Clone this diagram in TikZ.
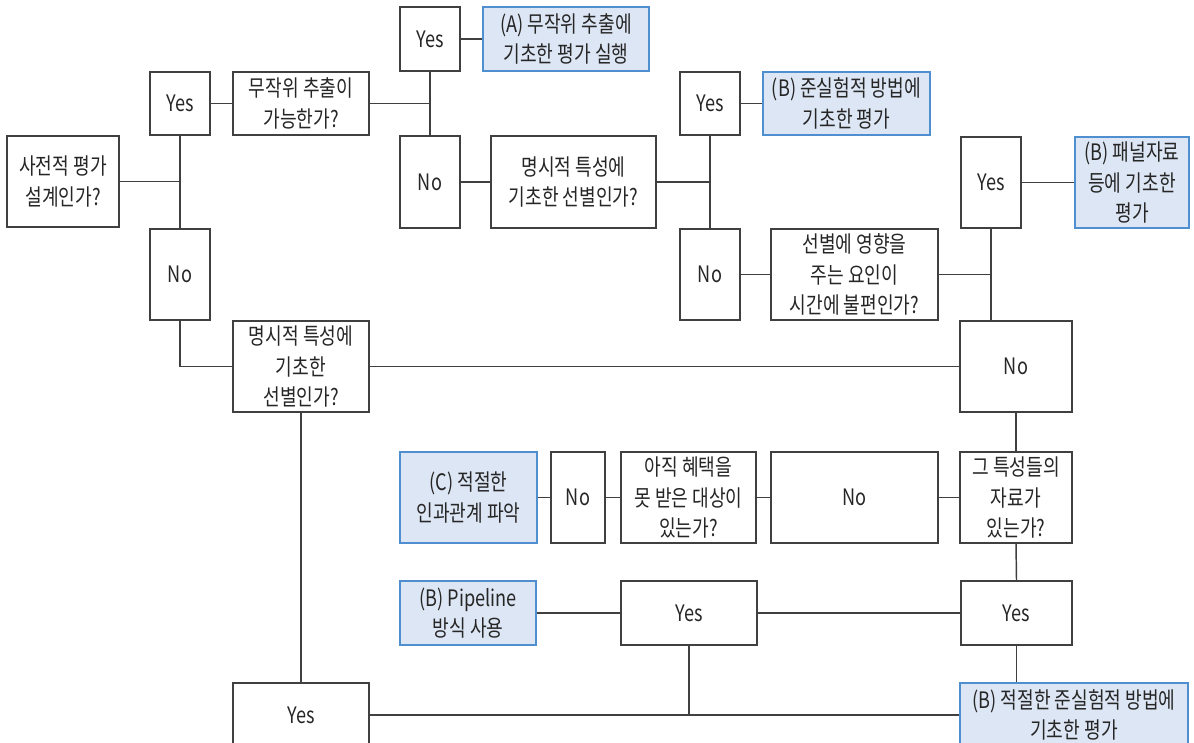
\documentclass[tikz,border=0pt]{standalone}
\usepackage{fontspec}
\newfontfamily\kr[FakeStretch=0.8]{Noto Sans CJK KR}
\definecolor{lnc}{HTML}{404040}
\definecolor{txc}{HTML}{262626}
\definecolor{bfill}{HTML}{DDE6F4}
\definecolor{bdraw}{HTML}{4F8FCF}
\begin{document}
\begin{tikzpicture}[x=0.75pt,y=-0.75pt,
  box/.style={draw=lnc,line width=1.1pt,fill=white,text=txc,align=center,inner sep=0pt,
    font=\kr\fontsize{17pt}{22.8pt}\selectfont},
  res/.style={box,draw=bdraw,fill=bfill},
  ln/.style={draw=lnc,line width=1.1pt}]
\useasboundingbox (0,0) rectangle (1194,742);
\clip (0,0) rectangle (1194,742);
\fill[white] (0,0) rectangle (1194,742);
% column nodes
\node[box,minimum width=84pt,minimum height=68.25pt] (pre) at (63,181.5) {사전적 평가\\설계인가?};
\node[box,minimum width=45pt,minimum height=47.25pt] (yes1) at (180,103.5) {Yes};
\node[box,minimum width=102pt,minimum height=47.25pt] (rand) at (301,103.5) {무작위 추출이\\가능한가?};
\node[box,minimum width=45pt,minimum height=68.25pt] (no1) at (180,274.5) {No};
\node[box,minimum width=102pt,minimum height=68.25pt] (exp2) at (301,366.5) {명시적 특성에\\기초한\\선별인가?};
\node[box,minimum width=45pt,minimum height=48pt] (yes2) at (430,39) {Yes};
\node[res,minimum width=124.5pt,minimum height=48pt] (A) at (566,39) {(A) 무작위 추출에\\기초한 평가 실행};
\node[box,minimum width=45pt,minimum height=69pt] (no2) at (430,182) {No};
\node[box,minimum width=123.75pt,minimum height=69pt] (exp1) at (573.5,182) {명시적 특성에\\기초한 선별인가?};
\node[box,minimum width=45pt,minimum height=47.25pt] (yes3) at (710,103.5) {Yes};
\node[res,minimum width=125.25pt,minimum height=47.25pt] (Bq) at (846.5,103.5) {(B) 준실험적 방법에\\기초한 평가};
\node[box,minimum width=45pt,minimum height=68.25pt] (no3) at (710,274.5) {No};
\node[box,minimum width=125.25pt,minimum height=68.25pt] (sel) at (854.5,274.5) {선별에 영향을\\주는 요인이\\시간에 불편인가?};
\node[box,minimum width=45pt,minimum height=68.25pt] (yes4) at (991,182.5) {Yes};
\node[res,minimum width=85.5pt,minimum height=68.25pt] (panel) at (1132,182.5) {(B) 패널자료\\등에 기초한\\평가};
\node[box,minimum width=84pt,minimum height=68.25pt] (no4) at (1016,366.5) {No};
% row of 497
\node[res,minimum width=102.75pt,minimum height=68.25pt] (C) at (468.5,497.5) {(C) 적절한\\인과관계 파악};
\node[box,minimum width=40.5pt,minimum height=68.25pt] (no6) at (578,497.5) {No};
\node[box,minimum width=101.25pt,minimum height=68.25pt] (ask) at (688.5,497.5) {아직 혜택을\\못 받은 대상이\\있는가?};
\node[box,minimum width=125.25pt,minimum height=68.25pt] (no5) at (854.5,497.5) {No};
\node[box,minimum width=84pt,minimum height=68.25pt] (data) at (1016,497.5) {그 특성들의\\자료가\\있는가?};
% row of 613
\node[res,minimum width=102pt,minimum height=48pt] (pipe) at (468,613) {(B) Pipeline\\방식 사용};
\node[box,minimum width=102pt,minimum height=48pt] (yes5) at (689,613) {Yes};
\node[box,minimum width=83.25pt,minimum height=48pt] (yes6) at (1016.5,613) {Yes};
% bottom row
\node[box,minimum width=102pt,minimum height=48pt] (yes7) at (301,715) {Yes};
\node[res,minimum width=171pt,minimum height=48pt] (Bf) at (1074,715) {(B) 적절한 준실험적 방법에\\기초한 평가};
% connectors
\path[ln] (pre.east) -- (pre.east -| yes1.south);
\path[ln] (yes1.south) -- (no1.north);
\path[ln] (yes1.east) -- (rand.west);
\path[ln] (rand.east) -- (rand.east -| yes2.south);
\path[ln] (yes2.south) -- (no2.north);
\path[ln] (yes2.east) -- (A.west);
\path[ln] (no2.east) -- (exp1.west);
\path[ln] (exp1.east) -- (exp1.east -| yes3.south);
\path[ln] (yes3.south) -- (no3.north);
\path[ln] (yes3.east) -- (Bq.west);
\path[ln] (no3.east) -- (sel.west);
\path[ln] (sel.east) -- (sel.east -| yes4.south);
\path[ln] (yes4.south) -- (yes4.south |- no4.north);
\path[ln] (yes4.east) -- (panel.west);
\path[ln] (no1.south) |- (exp2.west);
\path[ln] (exp2.east) -- (no4.west);
\path[ln] (no4.south) -- (data.north);
\path[ln] (data.west) -- (no5.east);
\path[ln] (no5.west) -- (ask.east);
\path[ln] (ask.west) -- (no6.east);
\path[ln] (no6.west) -- (C.east);
\path[ln] (data.south) -- (yes6.north);
\path[ln] (yes6.west) -- (yes5.east);
\path[ln] (yes5.west) -- (pipe.east);
\path[ln] (yes6.south) -- (yes6.south |- Bf.north);
\path[ln] (exp2.south) -- (yes7.north);
\path[ln] (yes7.east) -- (Bf.west);
\path[ln] (yes5.south) -- (yes5.south |- yes7.east);
\end{tikzpicture}
\end{document}
